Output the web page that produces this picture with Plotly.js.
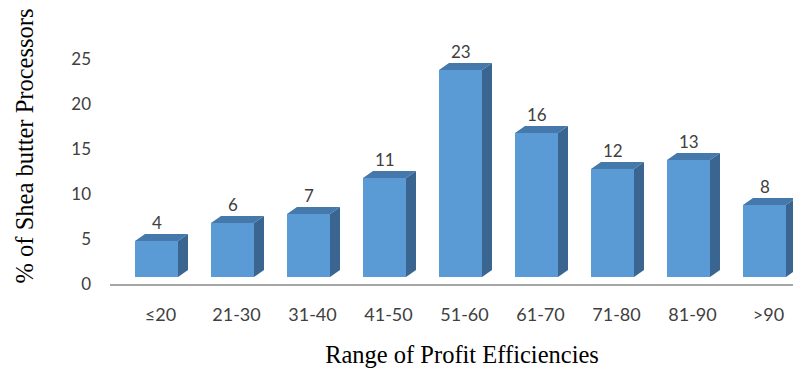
<!DOCTYPE html>
<html>
<head>
<meta charset="utf-8">
<script src="https://cdn.plot.ly/plotly-3.0.1.min.js"></script>
<style>
  html, body { margin: 0; padding: 0; overflow: hidden; background: #ffffff; }
  #chart { width: 814px; height: 378px; }
</style>
</head>
<body>
<div id="chart"></div>
<script>
// ---- data ----
const categories = ["≤20", "21-30", "31-40", "41-50", "51-60", "61-70", "71-80", "81-90", ">90"];
const values = [4, 6, 7, 11, 23, 16, 12, 13, 8];
const yTickValues = [0, 5, 10, 15, 20, 25];

// ---- style constants ----
const FRONT = "#5B9BD5", TOP = "#4679AB", SIDE = "#396590";
const BAR_W = 0.566;      // bar width in category units
const DEPTH_X = 10 / 76;  // 3D depth offset (x units)
const DEPTH_Y = 7 / 9;    // 3D depth offset (y units)
const PX_PER_UNIT = 9;
const PLOT_H = 276;
const BASE_LIFT = 7 / 9;  // floor offset of bars above the axis line

const xs = categories.map((c, i) => i);

// build top & side faces from data
const sideX = [], sideY = [], topX = [], topY = [];
xs.forEach((x, i) => {
  const v = values[i];
  const l = x - BAR_W / 2, r = x + BAR_W / 2;
  sideX.push(r, r + DEPTH_X, r + DEPTH_X, r, r, null);
  sideY.push(0, DEPTH_Y, v + DEPTH_Y, v, 0, null);
  topX.push(l, l + DEPTH_X, r + DEPTH_X, r, l, null);
  topY.push(v, v + DEPTH_Y, v + DEPTH_Y, v, v, null);
});

const traces = [
  // empty trace so that the primary x/y subplot (tick axis) is drawn
  { type: "scatter", x: [xs[0]], y: [yTickValues[0]], mode: "markers",
    marker: { opacity: 0, size: 1 }, hoverinfo: "skip" },
  { type: "bar", x: xs, y: values, width: BAR_W, yaxis: "y2",
    marker: { color: FRONT, line: { width: 0 } }, hoverinfo: "skip" },
  { type: "scatter", x: sideX, y: sideY, yaxis: "y2", mode: "lines", fill: "toself",
    fillcolor: SIDE, line: { width: 0, color: SIDE }, hoverinfo: "skip", connectgaps: false },
  { type: "scatter", x: topX, y: topY, yaxis: "y2", mode: "lines", fill: "toself",
    fillcolor: TOP, line: { width: 0, color: TOP }, hoverinfo: "skip", connectgaps: false }
];

const labelFont = { family: "Lato, 'Open Sans', sans-serif", size: 17, color: "#404040" };

const annotations = xs.map((x, i) => ({
  x: x, y: values[i], xref: "x", yref: "y2", text: String(values[i]),
  showarrow: false, yanchor: "middle", xanchor: "center", yshift: 19,
  font: labelFont
}));

const yMax = PLOT_H / PX_PER_UNIT;

const layout = {
  width: 814, height: 378,
  margin: { l: 110, r: 0, t: 8, b: 94 },
  paper_bgcolor: "#ffffff", plot_bgcolor: "#ffffff",
  showlegend: false,
  bargap: 0,
  xaxis: {
    range: [(110 - 156.5) / 76, (814 - 156.5) / 76],
    tickvals: xs, ticktext: categories,
    showline: true, linecolor: "#A6A6A6", linewidth: 2,
    showgrid: false, zeroline: false, ticks: "",
    ticklabelstandoff: 13, ticklabelshift: 4,
    tickfont: { family: "Lato, 'Open Sans', sans-serif", size: 18, color: "#404040" },
    title: { text: "Range of Profit Efficiencies", standoff: 22,
      font: { family: "'Liberation Serif', 'Times New Roman', serif", size: 24.5, color: "#000000" } },
    fixedrange: true
  },
  yaxis: {
    range: [0, yMax],
    tickvals: yTickValues,
    showline: false, showgrid: false, zeroline: false, ticks: "",
    ticklabelstandoff: 18,
    tickfont: { family: "Lato, 'Open Sans', sans-serif", size: 17, color: "#404040" },
    title: { text: "% of Shea butter Processors", standoff: 30,
      font: { family: "'Liberation Serif', 'Times New Roman', serif", size: 24.5, color: "#000000" } },
    fixedrange: true
  },
  yaxis2: {
    overlaying: "y", range: [-BASE_LIFT, yMax - BASE_LIFT], visible: false, fixedrange: true
  },
  annotations: annotations
};

Plotly.newPlot("chart", traces, layout, { staticPlot: true, displayModeBar: false });
</script>
</body>
</html>
